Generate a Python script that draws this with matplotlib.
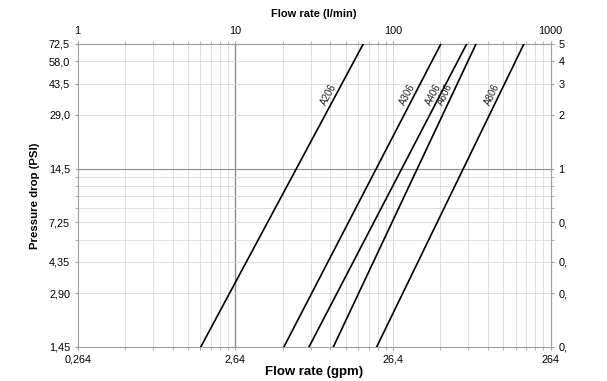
import numpy as np
import matplotlib.pyplot as plt

plt.rcParams['font.family'] = ['Liberation Sans', 'DejaVu Sans']

# flow rate axis (l/min) and its gpm labels
lpm_ticks = [1, 10, 100, 1000]
gpm_labels = ['0,264', '2,64', '26,4', '264']

# pressure axis (bar) with PSI labels on the left, bar on the right
bar_ticks = [5, 4, 3, 2, 1, 0.5, 0.3, 0.2, 0.1]
psi_labels = ['72,5', '58,0', '43,5', '29,0', '14,5', '7,25', '4,35', '2,90', '1,45']
bar_labels = ['5', '4', '3', '2', '1', '0,', '0,', '0,', '0,']
bar_grid = [0.1, 0.2, 0.3, 0.4, 0.5, 0.6, 0.7, 0.8, 0.9, 1, 2, 3, 4, 5]

# valve curves: flow (l/min) at 0.1 bar and at 5 bar
models = ['A206', 'A306', 'A406', 'A606', 'A806']
dp_bar = [0.1, 5.0]
q_low = [6.03, 20.3, 29.3, 41.8, 78.7]
q_high = [64.7, 201, 293, 336, 676]
label_bar = 2.6

fig = plt.figure(figsize=(6.07, 3.81), dpi=100)
ax = fig.add_axes([77.7/607, 1-347/381, (550.7-77.7)/607, (347-44)/381])
ax.set_xscale('log')
ax.set_yscale('log')
ax.set_xlim(1, 1000)
ax.set_ylim(0.1, 5)

# grid
lw_g = 0.6
for dec in [1, 10, 100]:
    for k in range(2, 10):
        ax.axvline(dec*k, color='#d9d9d9', lw=lw_g, zorder=0)
ax.axvline(10, color='#8c8c8c', lw=1.0, zorder=0)
ax.axvline(100, color='#cfcfcf', lw=lw_g, zorder=0)
for b in bar_grid:
    ax.axhline(b, color='#d9d9d9', lw=lw_g, zorder=0)
ax.axhline(1, color='#8c8c8c', lw=0.8, zorder=0)

for s in ax.spines.values():
    s.set_color('#a0a0a0')
    s.set_linewidth(0.8)

# curves
for i, m in enumerate(models):
    ax.plot([q_low[i], q_high[i]], dp_bar, color='black', lw=1.2, zorder=3)
    expo = np.log(q_high[i]/q_low[i])/np.log(dp_bar[1]/dp_bar[0])
    ql = q_low[i]*(label_bar/dp_bar[0])**expo
    p0 = ax.transData.transform((q_low[i], dp_bar[0]))
    p1 = ax.transData.transform((q_high[i], dp_bar[1]))
    ang = np.degrees(np.arctan2(p1[1]-p0[1], p1[0]-p0[0]))
    ax.annotate(m, (ql, label_bar), xytext=(-5, 0), textcoords='offset points',
                rotation=ang, ha='center', va='center', fontsize=7,
                color='#222222', zorder=4)

# bottom: gpm labels
ax.set_xticks(lpm_ticks)
ax.set_xticklabels(gpm_labels)
ax.xaxis.set_minor_locator(plt.FixedLocator([d*k for d in [1, 10, 100] for k in range(2, 10)]))
ax.xaxis.set_minor_formatter(plt.NullFormatter())
ax.tick_params(axis='x', which='both', direction='out', length=2.5, color='#a0a0a0',
               labelsize=7.8, pad=3)
ax.set_xlabel('Flow rate (gpm)', fontsize=9.5, fontweight='bold', labelpad=1)

# left: PSI labels
ax.set_yticks(bar_ticks)
ax.set_yticklabels(psi_labels)
ax.yaxis.set_minor_locator(plt.FixedLocator(bar_grid))
ax.yaxis.set_minor_formatter(plt.NullFormatter())
ax.tick_params(axis='y', which='both', direction='out', length=2.5, color='#a0a0a0',
               labelsize=7.8, pad=3)
ax.set_ylabel('Pressure drop (PSI)', fontsize=8.2, fontweight='bold', labelpad=6)

# top: l/min
axt = ax.secondary_xaxis('top')
axt.set_xticks(lpm_ticks)
axt.set_xticklabels([str(v) for v in lpm_ticks])
axt.xaxis.set_minor_locator(plt.FixedLocator([d*k for d in [1, 10, 100] for k in range(2, 10)]))
axt.xaxis.set_minor_formatter(plt.NullFormatter())
axt.tick_params(which='both', direction='out', length=2.5, color='#a0a0a0', labelsize=7.8, pad=3)
axt.spines['top'].set_color('#a0a0a0')
axt.set_xlabel('Flow rate (l/min)', fontsize=8, fontweight='bold', labelpad=7)

# right: bar
axr = ax.secondary_yaxis('right')
axr.set_yticks(bar_ticks)
axr.set_yticklabels(bar_labels)
axr.yaxis.set_minor_locator(plt.FixedLocator(bar_grid))
axr.yaxis.set_minor_formatter(plt.NullFormatter())
axr.tick_params(which='both', direction='out', length=2.5, color='#a0a0a0', labelsize=7.8, pad=3)
axr.spines['right'].set_color('#a0a0a0')

plt.savefig('out.png', dpi=100)
